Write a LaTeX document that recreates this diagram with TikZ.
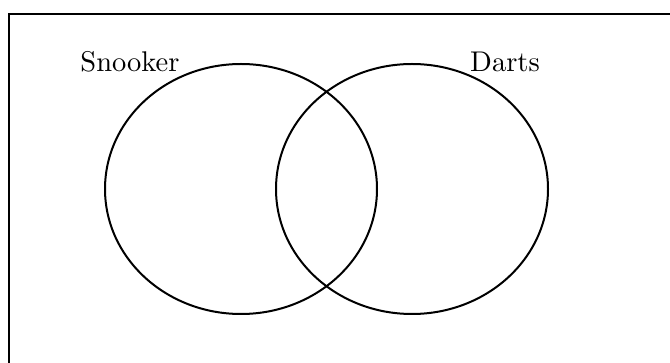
\documentclass[tikz,border=0pt]{standalone}
\usetikzlibrary{shapes.geometric}
\begin{document}
\begin{tikzpicture}[x=1pt,y=-1pt,
  setc/.style={draw=black,line width=2pt,ellipse,minimum width=272pt,minimum height=250pt,inner sep=0pt},
  lbl/.style={inner sep=0pt,scale=2.85}]
\useasboundingbox (0,0) rectangle (670,363);
\clip (0,0) rectangle (670,363);
\draw[line width=2.5pt] (9,375) -- (9,14) -- (680,14);
\node[setc] (snooker) at (241,189) {};
\node[setc] (darts) at (412,189) {};
\node[lbl] (snookerlbl) at (130,62) {Snooker};
\node[lbl] (dartslbl) at (505,62) {Darts};
\end{tikzpicture}
\end{document}
